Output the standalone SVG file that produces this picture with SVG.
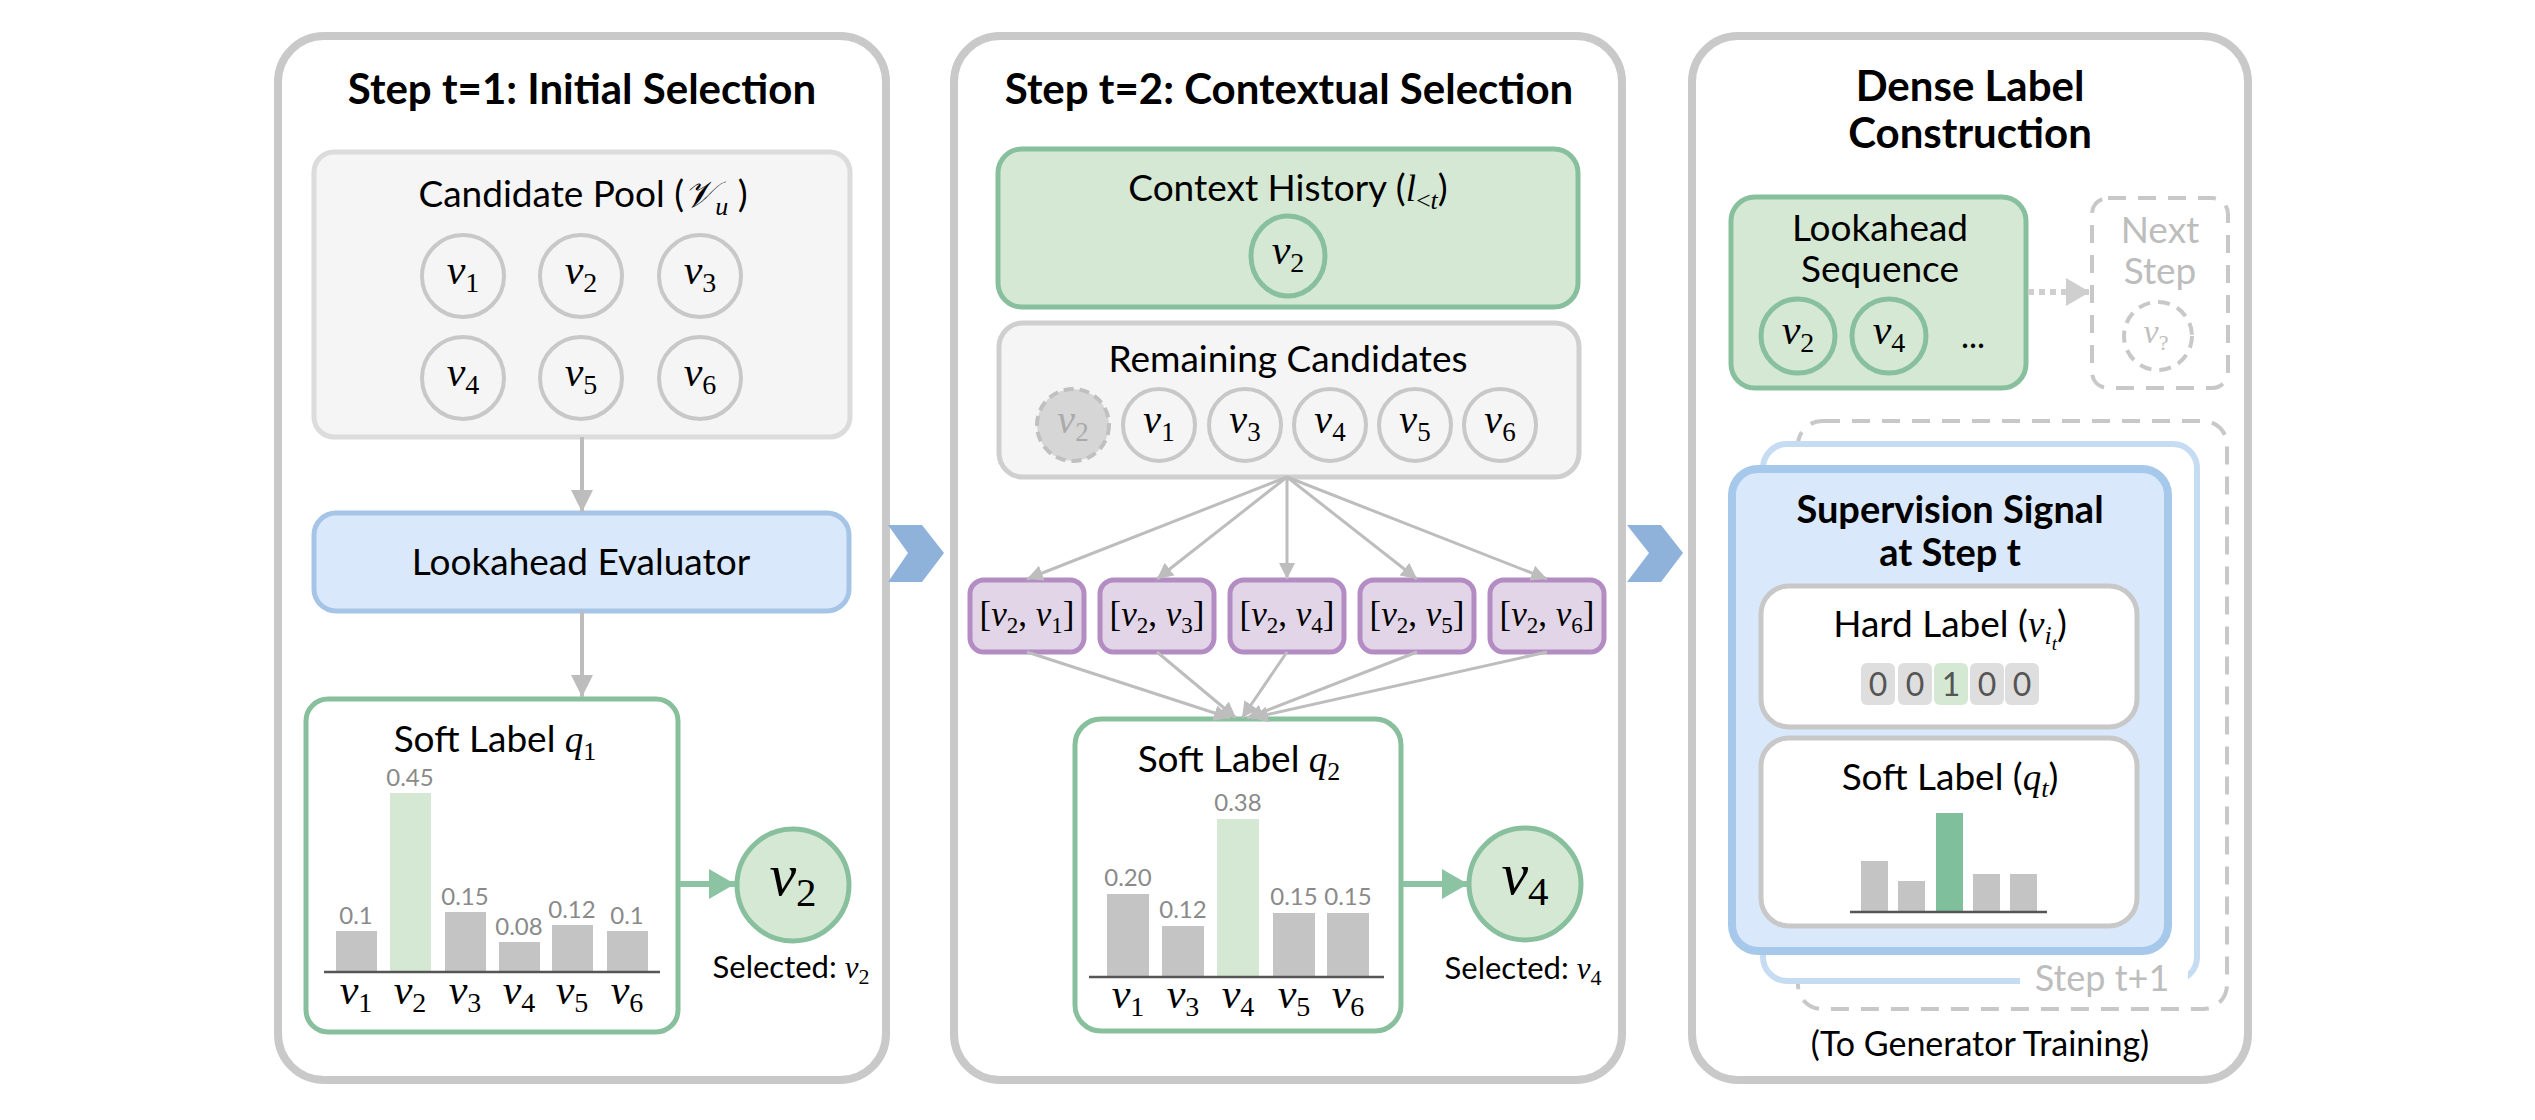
<svg xmlns="http://www.w3.org/2000/svg" width="2535" height="1120" viewBox="0 0 2535 1120">
<style>
.panel{fill:#fff;stroke:#c9c9c9;stroke-width:8}
.t{font-family:Lato,'Liberation Sans',sans-serif;fill:#000}
.title{font-weight:700;font-size:42px;text-anchor:middle}
.lbl{font-size:37px;text-anchor:middle}
.m{font-family:'Liberation Serif','DejaVu Serif',serif;font-style:italic}
.s{font-style:normal}
.cand{fill:none;stroke:#c8c8c8;stroke-width:4}
.green{fill:#d5e8d4;stroke:#88bf9d;stroke-width:5}
.blue{fill:#dae8fc;stroke:#a6c5e6;stroke-width:5}
.gray{fill:#f5f5f5;stroke:#d6d6d6;stroke-width:5}
.purple{fill:#e1d5e7;stroke:#b48cc4;stroke-width:5}
.wbox{fill:#fff;stroke:#88bf9d;stroke-width:5}
.bar{fill:#c4c4c4}
.barg{fill:#d5e8d4}
.val{font-family:Lato,'Liberation Sans',sans-serif;font-size:24px;fill:#8a8a8a;text-anchor:middle}
.axis{stroke:#555;stroke-width:2.5}
.conn{stroke:#bdbdbd;stroke-width:4;fill:none}
.fan{stroke:#bdbdbd;stroke-width:3;fill:none}
.garrow{stroke:#8cc4a3;stroke-width:6;fill:none}
.chev{fill:#8fb2da}
.dash{fill:none;stroke:#c8c8c8;stroke-width:4;stroke-dasharray:18 12}
.ghost{fill:#bdbdbd}
</style>
<defs>
<marker id="ah" markerUnits="userSpaceOnUse" markerWidth="24" markerHeight="22" refX="22" refY="11" orient="auto"><path d="M0,0 L22,11 L0,22 Z" fill="#bdbdbd"/></marker>
<marker id="ahs" markerUnits="userSpaceOnUse" markerWidth="18" markerHeight="16" refX="16" refY="8" orient="auto"><path d="M0,0 L16,8 L0,16 Z" fill="#bdbdbd"/></marker>
<marker id="ahg" markerUnits="userSpaceOnUse" markerWidth="28" markerHeight="30" refX="26" refY="15" orient="auto"><path d="M0,0 L26,15 L0,30 Z" fill="#8cc4a3"/></marker>
<marker id="ahd" markerUnits="userSpaceOnUse" markerWidth="26" markerHeight="28" refX="24" refY="14" orient="auto"><path d="M0,0 L24,14 L0,28 Z" fill="#cfcfcf"/></marker>
</defs>
<rect width="2535" height="1120" fill="#fff"/>

<!-- Panel 1 -->
<g id="panel1">
<rect class="panel" x="278" y="36" width="608" height="1044" rx="46"/>
<text class="t title" x="582" y="104">Step t=1: Initial Selection</text>
</g>
<g id="candidate-pool">
<rect class="gray" x="314" y="152" width="536" height="285" rx="20" style="stroke:#dcdcdc"/>
<text class="t lbl" x="583" y="207">Candidate Pool (<tspan class="m">𝒱</tspan><tspan class="m" font-size="26" dy="8">u</tspan><tspan dy="-8"> )</tspan></text>
<g class="m" font-size="42" text-anchor="middle">
<circle class="cand" cx="463" cy="276" r="41"/><text x="463" y="284">v<tspan class="s" font-size="28" dy="8">1</tspan></text>
<circle class="cand" cx="581" cy="276" r="41"/><text x="581" y="284">v<tspan class="s" font-size="28" dy="8">2</tspan></text>
<circle class="cand" cx="700" cy="276" r="41"/><text x="700" y="284">v<tspan class="s" font-size="28" dy="8">3</tspan></text>
<circle class="cand" cx="463" cy="378" r="41"/><text x="463" y="386">v<tspan class="s" font-size="28" dy="8">4</tspan></text>
<circle class="cand" cx="581" cy="378" r="41"/><text x="581" y="386">v<tspan class="s" font-size="28" dy="8">5</tspan></text>
<circle class="cand" cx="700" cy="378" r="41"/><text x="700" y="386">v<tspan class="s" font-size="28" dy="8">6</tspan></text>
</g>
</g>
<g id="lookahead-evaluator">
<rect class="blue" x="314" y="513" width="535" height="98" rx="22"/>
<text class="t lbl" x="581" y="575">Lookahead Evaluator</text>
</g>
<g id="soft-label-1">
<rect class="wbox" x="306" y="699" width="372" height="333" rx="22"/>
<text class="t lbl" x="495" y="752">Soft Label <tspan class="m">q</tspan><tspan class="m s" font-size="26" dy="8">1</tspan></text>
<rect class="bar" x="336" y="931" width="41" height="40"/>
<rect class="barg" x="390" y="793" width="41" height="178"/>
<rect class="bar" x="445" y="912" width="41" height="59"/>
<rect class="bar" x="499" y="942" width="41" height="29"/>
<rect class="bar" x="552" y="925" width="41" height="46"/>
<rect class="bar" x="607" y="931" width="41" height="40"/>
<line class="axis" x1="324" y1="972" x2="660" y2="972"/>
<text class="val" x="356" y="924">0.1</text>
<text class="val" x="410" y="786">0.45</text>
<text class="val" x="465" y="905">0.15</text>
<text class="val" x="519" y="935">0.08</text>
<text class="val" x="572" y="918">0.12</text>
<text class="val" x="627" y="924">0.1</text>
<g class="m" font-size="42" text-anchor="middle">
<text x="356" y="1004">v<tspan class="s" font-size="28" dy="8">1</tspan></text>
<text x="410" y="1004">v<tspan class="s" font-size="28" dy="8">2</tspan></text>
<text x="465" y="1004">v<tspan class="s" font-size="28" dy="8">3</tspan></text>
<text x="519" y="1004">v<tspan class="s" font-size="28" dy="8">4</tspan></text>
<text x="572" y="1004">v<tspan class="s" font-size="28" dy="8">5</tspan></text>
<text x="627" y="1004">v<tspan class="s" font-size="28" dy="8">6</tspan></text>
</g>
</g>
<g id="selected-1">
<circle class="green" cx="793" cy="885" r="56"/>
<text class="m" font-size="60" text-anchor="middle" x="793" y="895">v<tspan class="s" font-size="41" dy="11">2</tspan></text>
<text class="t" font-size="31" text-anchor="middle" x="791" y="978">Selected: <tspan class="m">v</tspan><tspan class="m s" font-size="22" dy="6">2</tspan></text>
</g>

<!-- Panel 2 -->
<g id="panel2">
<rect class="panel" x="954" y="36" width="668" height="1044" rx="46"/>
<text class="t title" x="1289" y="104">Step t=2: Contextual Selection</text>
</g>
<g id="context-history">
<rect class="green" x="998" y="149" width="580" height="158" rx="24"/>
<text class="t lbl" x="1288" y="201">Context History (<tspan class="m">l</tspan><tspan class="m" font-size="26" dy="8"><tspan class="s">&lt;</tspan>t</tspan><tspan dy="-8">)</tspan></text>
<ellipse class="green" cx="1288" cy="256" rx="37" ry="40"/>
<text class="m" font-size="42" text-anchor="middle" x="1288" y="264">v<tspan class="s" font-size="28" dy="8">2</tspan></text>
</g>
<g id="remaining-candidates">
<rect class="gray" x="999" y="323" width="580" height="154" rx="24" style="stroke:#cfcfcf"/>
<text class="t lbl" x="1288" y="372">Remaining Candidates</text>
<g class="m" font-size="40" text-anchor="middle">
<circle cx="1073" cy="425" r="36" fill="#d6d6d6" stroke="#c0c0c0" stroke-width="4" stroke-dasharray="10 6"/><text x="1073" y="433" fill="#aaaaaa">v<tspan class="s" font-size="27" dy="8">2</tspan></text>
<circle class="cand" cx="1159" cy="425" r="36"/><text x="1159" y="433">v<tspan class="s" font-size="27" dy="8">1</tspan></text>
<circle class="cand" cx="1245" cy="425" r="36"/><text x="1245" y="433">v<tspan class="s" font-size="27" dy="8">3</tspan></text>
<circle class="cand" cx="1330" cy="425" r="36"/><text x="1330" y="433">v<tspan class="s" font-size="27" dy="8">4</tspan></text>
<circle class="cand" cx="1415" cy="425" r="36"/><text x="1415" y="433">v<tspan class="s" font-size="27" dy="8">5</tspan></text>
<circle class="cand" cx="1500" cy="425" r="36"/><text x="1500" y="433">v<tspan class="s" font-size="27" dy="8">6</tspan></text>
</g>
</g>
<g id="pairs" class="m" font-size="35" text-anchor="middle">
<g id="pair-v2-v1"><rect class="purple" x="970" y="580" width="114" height="72" rx="14"/><text x="1027" y="626"><tspan class="s">[</tspan>v<tspan class="s" font-size="23" dy="7">2</tspan><tspan class="s" dy="-7">, </tspan>v<tspan class="s" font-size="23" dy="7">1</tspan><tspan class="s" dy="-7">]</tspan></text></g>
<g id="pair-v2-v3"><rect class="purple" x="1100" y="580" width="114" height="72" rx="14"/><text x="1157" y="626"><tspan class="s">[</tspan>v<tspan class="s" font-size="23" dy="7">2</tspan><tspan class="s" dy="-7">, </tspan>v<tspan class="s" font-size="23" dy="7">3</tspan><tspan class="s" dy="-7">]</tspan></text></g>
<g id="pair-v2-v4"><rect class="purple" x="1230" y="580" width="114" height="72" rx="14"/><text x="1287" y="626"><tspan class="s">[</tspan>v<tspan class="s" font-size="23" dy="7">2</tspan><tspan class="s" dy="-7">, </tspan>v<tspan class="s" font-size="23" dy="7">4</tspan><tspan class="s" dy="-7">]</tspan></text></g>
<g id="pair-v2-v5"><rect class="purple" x="1360" y="580" width="114" height="72" rx="14"/><text x="1417" y="626"><tspan class="s">[</tspan>v<tspan class="s" font-size="23" dy="7">2</tspan><tspan class="s" dy="-7">, </tspan>v<tspan class="s" font-size="23" dy="7">5</tspan><tspan class="s" dy="-7">]</tspan></text></g>
<g id="pair-v2-v6"><rect class="purple" x="1490" y="580" width="114" height="72" rx="14"/><text x="1547" y="626"><tspan class="s">[</tspan>v<tspan class="s" font-size="23" dy="7">2</tspan><tspan class="s" dy="-7">, </tspan>v<tspan class="s" font-size="23" dy="7">6</tspan><tspan class="s" dy="-7">]</tspan></text></g>
</g>
<g id="soft-label-2">
<rect class="wbox" x="1075" y="719" width="326" height="312" rx="26"/>
<text class="t lbl" x="1239" y="772">Soft Label <tspan class="m">q</tspan><tspan class="m s" font-size="26" dy="8">2</tspan></text>
<rect class="bar" x="1107" y="894" width="42" height="82"/>
<rect class="bar" x="1162" y="926" width="42" height="50"/>
<rect class="barg" x="1217" y="819" width="42" height="157"/>
<rect class="bar" x="1273" y="913" width="42" height="63"/>
<rect class="bar" x="1327" y="913" width="42" height="63"/>
<line class="axis" x1="1089" y1="977" x2="1384" y2="977"/>
<text class="val" x="1128" y="886">0.20</text>
<text class="val" x="1183" y="918">0.12</text>
<text class="val" x="1238" y="811">0.38</text>
<text class="val" x="1294" y="905">0.15</text>
<text class="val" x="1348" y="905">0.15</text>
<g class="m" font-size="42" text-anchor="middle">
<text x="1128" y="1008">v<tspan class="s" font-size="28" dy="8">1</tspan></text>
<text x="1183" y="1008">v<tspan class="s" font-size="28" dy="8">3</tspan></text>
<text x="1238" y="1008">v<tspan class="s" font-size="28" dy="8">4</tspan></text>
<text x="1294" y="1008">v<tspan class="s" font-size="28" dy="8">5</tspan></text>
<text x="1348" y="1008">v<tspan class="s" font-size="28" dy="8">6</tspan></text>
</g>
</g>
<g id="selected-2">
<circle class="green" cx="1525" cy="884" r="56"/>
<text class="m" font-size="60" text-anchor="middle" x="1525" y="894">v<tspan class="s" font-size="41" dy="11">4</tspan></text>
<text class="t" font-size="31" text-anchor="middle" x="1523" y="979">Selected: <tspan class="m">v</tspan><tspan class="m s" font-size="22" dy="6">4</tspan></text>
</g>

<!-- Panel 3 -->
<g id="panel3">
<rect class="panel" x="1692" y="36" width="556" height="1044" rx="46"/>
<text class="t title" x="1970" y="101">Dense Label</text>
<text class="t title" x="1970" y="148">Construction</text>
</g>
<g id="lookahead-sequence">
<rect class="green" x="1731" y="197" width="295" height="191" rx="24"/>
<text class="t lbl" x="1880" y="241">Lookahead</text>
<text class="t lbl" x="1880" y="282">Sequence</text>
<circle class="green" cx="1798" cy="336" r="37"/>
<text class="m" font-size="42" text-anchor="middle" x="1798" y="344">v<tspan class="s" font-size="28" dy="8">2</tspan></text>
<circle class="green" cx="1889" cy="336" r="37"/>
<text class="m" font-size="42" text-anchor="middle" x="1889" y="344">v<tspan class="s" font-size="28" dy="8">4</tspan></text>
<text class="t" font-size="34" text-anchor="middle" x="1973" y="348">...</text>
</g>
<g id="next-step">
<rect class="dash" x="2092" y="198" width="136" height="190" rx="16"/>
<text class="t lbl" x="2160" y="243" style="fill:#bdbdbd">Next</text>
<text class="t lbl" x="2160" y="284" style="fill:#bdbdbd">Step</text>
<circle cx="2158" cy="336" r="34" fill="none" stroke="#c8c8c8" stroke-width="4" stroke-dasharray="12 8"/>
<text class="m" font-size="34" text-anchor="middle" x="2156" y="343" fill="#c0c0c0">v<tspan class="s" font-size="22" dy="7">?</tspan></text>
</g>
<g id="supervision-stack">
<rect class="dash" x="1798" y="421" width="429" height="588" rx="24"/>
<rect x="1763" y="444" width="434" height="537" rx="24" fill="#fff" stroke="#c6dcf2" stroke-width="6"/>
<rect x="2020" y="955" width="168" height="46" fill="#fff"/>
<text class="t" font-size="36" text-anchor="middle" x="2102" y="991" style="fill:#bdbdbd">Step t+1</text>
</g>
<g id="supervision-signal">
<rect x="1732" y="469" width="436" height="482" rx="26" fill="#dae8fc" stroke="#a6c8ea" stroke-width="8"/>
<text class="t title" x="1950" y="523" style="font-size:38px">Supervision Signal</text>
<text class="t title" x="1950" y="566" style="font-size:38px">at Step t</text>
</g>
<g id="hard-label">
<rect x="1761" y="586" width="376" height="141" rx="28" fill="#fff" stroke="#c8c8c8" stroke-width="5"/>
<text class="t lbl" x="1950" y="637">Hard Label (<tspan class="m">v</tspan><tspan class="m" font-size="26" dy="7">i</tspan><tspan class="m" font-size="19" dy="6">t</tspan><tspan dy="-13">)</tspan></text>
<rect x="1861" y="663" width="34" height="42" rx="6" fill="#dedede"/>
<rect x="1898" y="663" width="34" height="42" rx="6" fill="#dedede"/>
<rect x="1934" y="663" width="34" height="42" rx="6" fill="#d5e8d4"/>
<rect x="1970" y="663" width="34" height="42" rx="6" fill="#dedede"/>
<rect x="2005" y="663" width="34" height="42" rx="6" fill="#dedede"/>
<g class="t" font-size="32" text-anchor="middle" style="fill:#555">
<text x="1878" y="696">0</text><text x="1915" y="696">0</text><text x="1951" y="696">1</text><text x="1987" y="696">0</text><text x="2022" y="696">0</text>
</g>
</g>
<g id="soft-label-t">
<rect x="1761" y="738" width="376" height="188" rx="28" fill="#fff" stroke="#c8c8c8" stroke-width="5"/>
<text class="t lbl" x="1950" y="790">Soft Label (<tspan class="m">q</tspan><tspan class="m" font-size="26" dy="7">t</tspan><tspan dy="-7">)</tspan></text>
<rect class="bar" x="1861" y="861" width="27" height="51"/>
<rect class="bar" x="1898" y="881" width="27" height="31"/>
<rect x="1936" y="813" width="27" height="99" fill="#7fbf9c"/>
<rect class="bar" x="1973" y="874" width="27" height="38"/>
<rect class="bar" x="2010" y="874" width="27" height="38"/>
<line class="axis" x1="1850" y1="912" x2="2047" y2="912"/>
</g>
<text id="to-generator" class="t" font-size="34" text-anchor="middle" x="1980" y="1056">(To Generator Training)</text>

<!-- Connectors -->
<g id="connectors">
<line class="conn" x1="582" y1="437" x2="582" y2="512" marker-end="url(#ah)"/>
<line class="conn" x1="582" y1="611" x2="582" y2="697" marker-end="url(#ah)"/>
<line class="garrow" x1="680" y1="884" x2="735" y2="884" marker-end="url(#ahg)"/>
<line class="garrow" x1="1403" y1="884" x2="1468" y2="884" marker-end="url(#ahg)"/>
<line class="fan" x1="1287" y1="477" x2="1027" y2="579" marker-end="url(#ahs)"/>
<line class="fan" x1="1287" y1="477" x2="1157" y2="579" marker-end="url(#ahs)"/>
<line class="fan" x1="1287" y1="477" x2="1287" y2="579" marker-end="url(#ahs)"/>
<line class="fan" x1="1287" y1="477" x2="1417" y2="579" marker-end="url(#ahs)"/>
<line class="fan" x1="1287" y1="477" x2="1547" y2="579" marker-end="url(#ahs)"/>
<line class="fan" x1="1027" y1="652" x2="1230" y2="718" marker-end="url(#ahs)"/>
<line class="fan" x1="1157" y1="652" x2="1236" y2="718" marker-end="url(#ahs)"/>
<line class="fan" x1="1287" y1="652" x2="1242" y2="718" marker-end="url(#ahs)"/>
<line class="fan" x1="1417" y1="652" x2="1247" y2="718" marker-end="url(#ahs)"/>
<line class="fan" x1="1547" y1="652" x2="1252" y2="718" marker-end="url(#ahs)"/>
<line x1="2028" y1="292" x2="2090" y2="292" stroke="#cfcfcf" stroke-width="6" stroke-dasharray="6 5" marker-end="url(#ahd)"/>
<polygon class="chev" points="888,525 922,525 944,553 922,582 888,582 908,553"/>
<polygon class="chev" points="1627,525 1661,525 1683,553 1661,582 1627,582 1649,553"/>
</g>
</svg>
